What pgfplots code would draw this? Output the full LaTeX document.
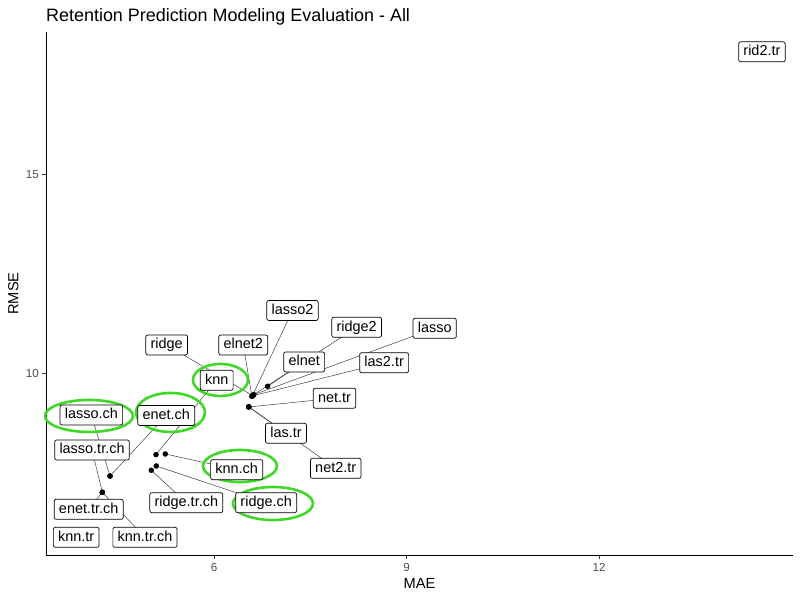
\documentclass[border=0pt]{standalone}
\usepackage{pgfplots}
\pgfplotsset{compat=1.18}
\usepackage{pgfplotstable}
\usepackage{fontspec}
\setmainfont{Liberation Sans}
\definecolor{ticklab}{RGB}{77,77,77}
\definecolor{pen}{RGB}{62,217,38}
\pgfplotstableread{
x y lx ly label
6.597 9.428 7.223 11.583 lasso2
6.610 9.450 8.223 11.160 ridge2
6.620 9.460 9.438 11.134 lasso
6.590 9.420 6.456 10.713 elnet2
6.600 9.440 5.263 10.713 ridge
6.836 9.672 7.405 10.285 elnet
6.600 9.430 8.651 10.267 las2.tr
6.540 9.150 7.877 9.370 net.tr
6.540 9.150 7.121 8.488 las.tr
6.545 9.155 7.896 7.605 net2.tr
5.097 7.950 6.042 9.824 knn
4.380 7.410 5.257 8.936 enet.ch
4.380 7.410 4.089 8.949 lasso.ch
4.260 7.000 4.100 8.067 lasso.tr.ch
4.260 7.000 4.048 6.572 enet.tr.ch
4.260 7.000 4.925 5.866 knn.tr.ch
5.241 7.966 6.354 7.570 knn.ch
5.101 7.663 6.813 6.738 ridge.ch
5.023 7.555 5.569 6.738 ridge.tr.ch
3.910 6.020 3.854 5.866 knn.tr
14.490 18.000 14.536 18.100 rid2.tr
}\models
\begin{document}
\begin{tikzpicture}
\useasboundingbox (0,0) rectangle (800bp,600bp);
\node[anchor=base west, inner sep=0pt, font=\fontsize{18}{20}\selectfont] at (46bp,578bp) {Retention Prediction Modeling Evaluation - All};
\begin{axis}[
  at={(46bp,45bp)}, anchor=south west,
  scale only axis, width=747bp, height=523bp,
  xmin=3.383, xmax=15.02, ymin=5.42, ymax=18.60,
  axis x line=bottom, axis y line=left,
  axis line style={-, line width=0.8bp, black},
  xtick={6,9,12}, ytick={10,15},
  tick align=outside, major tick length=3.7bp,
  tick style={line width=0.8bp, black!80},
  minor tick num=0,
  /pgf/number format/assume math mode=true,
  ticklabel style={font=\fontsize{11.7}{13}\selectfont, text=ticklab},
  xticklabel style={yshift=-1bp},
  xlabel={MAE}, ylabel={RMSE},
  label style={font=\fontsize{14.7}{16}\selectfont},
  xlabel style={at={(axis description cs:0.5,0)}, anchor=north, yshift=-20bp},
  ylabel style={at={(axis description cs:0,0.5)}, anchor=south, xshift=0bp, yshift=24bp},
  clip=false,
]
\addplot[black!75, line width=0.5bp, mark=none,
  quiver={u=\thisrow{lx}-\thisrow{x}, v=\thisrow{ly}-\thisrow{y}}]
  table[x=x, y=y] {\models};
\addplot[only marks, mark=*, mark size=2.5bp, black] table[x=x, y=y] {\models};
\addplot[only marks, mark=none,
  point meta=explicit symbolic,
  nodes near coords={\pgfplotspointmeta},
  every node near coord/.append style={anchor=center, draw=black, line width=0.7bp,
    fill=white, rounded corners=2bp, inner xsep=4.8bp, inner ysep=3.2bp,
    text height=10.6bp, text depth=3bp,
    font=\fontsize{14.5}{15}\selectfont, text=black}]
  table[x=lx, y=ly, meta=label] {\models};
\draw[pen, line width=2.6bp] (axis cs:6.101,9.831) ellipse [x radius=27.5bp, y radius=16bp];
\draw[pen, line width=2.6bp] (axis cs:4.053,8.924) ellipse [x radius=44bp, y radius=16bp];
\draw[pen, line width=2.6bp] (axis cs:5.322,9.012) ellipse [x radius=34.5bp, y radius=19.5bp];
\draw[pen, line width=2.6bp] (axis cs:6.405,7.663) ellipse [x radius=37bp, y radius=16bp];
\draw[pen, line width=2.6bp] (axis cs:6.919,6.718) ellipse [x radius=40bp, y radius=16.5bp];
\end{axis}
\end{tikzpicture}
\end{document}
